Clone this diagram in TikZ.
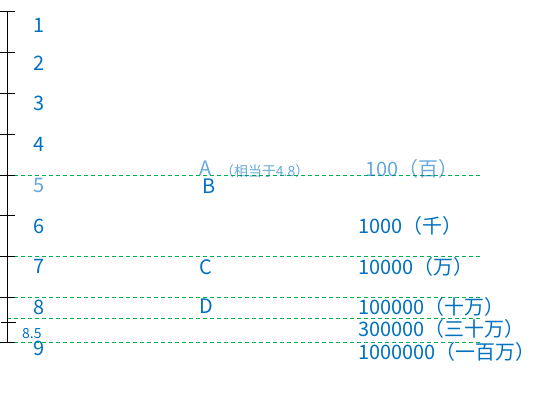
\documentclass[tikz,border=0pt]{standalone}
\usepackage{fontspec}
\setmainfont{Noto Sans CJK SC}
\usepackage{tikz}
\usetikzlibrary{positioning}
\definecolor{numblue}{HTML}{0070C0}
\definecolor{guidegreen}{HTML}{00B050}
\tikzset{
  axisline/.style={black, line width=1.2bp},
  guideline/.style={guidegreen, line width=1bp, dash pattern=on 4bp off 3bp},
  scalenum/.style={numblue, anchor=base west, inner sep=0pt, font=\fontsize{20}{24}\selectfont},
  faded/.style={opacity=0.6},
  smallnote/.style={numblue, anchor=base west, inner sep=0pt, font=\fontsize{14}{16}\selectfont}
}
\begin{document}
\begin{tikzpicture}[x=1bp, y=-1bp]
  \useasboundingbox (0,0) rectangle (547,396);
  \foreach \y in {175.5,256.5,297.5,318.5,342.5}
    \draw[guideline] (7,\y) -- (482,\y);
  \coordinate (top) at (7.5,11.5);
  \coordinate (bottom) at (7.5,342.5);
  \draw[axisline] (top) -- (bottom);
  \foreach \y in {11.5,52.5,93.5,134.5,175.5,215.5,256.5,297.5,342.5}
    \draw[axisline] (0,\y) -- (15,\y);
  \draw[axisline] (1,322.5) -- (16,322.5);
  \foreach \n/\y in {1/32,2/70,3/110,4/151,6/233,7/273,8/314,9/355}
    \node[scalenum] (t\n) at (33,\y) {\n};
  \node[scalenum, faded] (t5) at (33,192) {5};
  \node[smallnote] (thalf) at (22,338) {8.5};
  \node[scalenum, faded] (a) at (199,175) {A};
  \node[smallnote, faded] (anote) at (220,176) {（相当于4.8）};
  \node[scalenum] (b) at (202,193) {B};
  \node[scalenum] (c) at (199,274) {C};
  \node[scalenum] (d) at (199,313) {D};
  \node[scalenum, faded] (hundred) at (365,176) {100（百）};
  \node[scalenum] (thousand) at (358,233) {1000（千）};
  \node[scalenum] (tenk) at (358,274) {10000（万）};
  \node[scalenum] (hundredk) at (358,314) {100000（十万）};
  \node[scalenum] (threehk) at (358,336) {300000（三十万）};
  \node[scalenum] (million) at (358,359) {1000000（一百万）};
\end{tikzpicture}
\end{document}
